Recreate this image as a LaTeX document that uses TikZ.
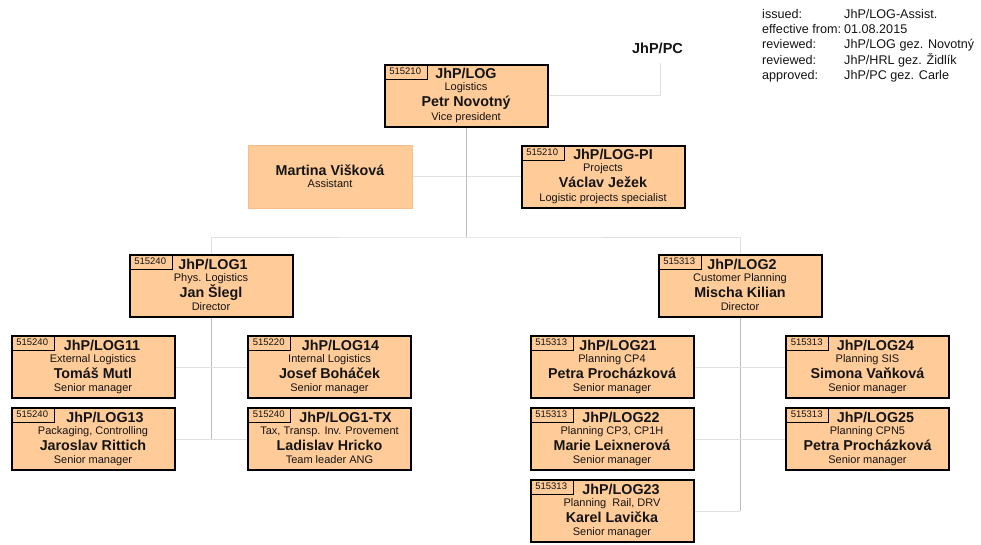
\documentclass[tikz,border=0pt]{standalone}
\usepackage{fontspec}
\setmainfont{Liberation Sans}
\usetikzlibrary{backgrounds}

\definecolor{boxfill}{HTML}{FFCC99}
\definecolor{asstedge}{HTML}{F3C08C}
\definecolor{trunkline}{HTML}{BEBEBE}
\definecolor{linkline}{HTML}{E0E0E0}
\definecolor{inkdark}{HTML}{141414}

\tikzset{
  unitbox/.style={draw=black, line width=2pt, fill=boxfill,
    minimum width=163pt, minimum height=62pt, inner sep=0pt},
  asstbox/.style={draw=asstedge, line width=0.6pt, fill=boxfill,
    minimum width=164pt, minimum height=63pt, inner sep=0pt},
  idtab/.style={anchor=north west, minimum width=43pt, minimum height=15pt,
    inner sep=0pt, text=inkdark, font=\fontsize{9.5}{10}\selectfont},
  tabedge/.style={draw=black, line width=0.8pt},
  titletxt/.style={anchor=base, inner sep=0pt, text=inkdark,
    font=\bfseries\fontsize{14.3}{15}\selectfont},
  nametxt/.style={anchor=base, inner sep=0pt, text=inkdark,
    font=\bfseries\fontsize{14.3}{15}\selectfont},
  depttxt/.style={anchor=base, inner sep=0pt, text=inkdark,
    font=\fontsize{11}{12}\selectfont},
  hdrtxt/.style={anchor=base west, inner sep=0pt, text=inkdark,
    font=\fontsize{12.6}{14}\selectfont},
  trunk/.style={draw=trunkline, line width=1pt},
  link/.style={draw=linkline, line width=1pt},
}

% #1 name, #2/#3 centre, #4 cost centre, #5 unit, #6 department,
% #7 person, #8 role, #9 horizontal shift of the unit title
\newcommand\orgunit[9]{%
  \node[unitbox] (#1) at (#2,#3) {};
  \node[idtab] (#1-id) at (#1.north west) {#4};
  \draw[tabedge] (#1-id.north east) -- (#1-id.south east) -- (#1-id.south west);
  \node[titletxt] (#1-t) at ([xshift=#9pt,yshift=-15pt]#1.north) {#5};
  \node[depttxt] (#1-d) at ([yshift=-27pt]#1.north) {#6};
  \node[nametxt] (#1-n) at ([yshift=-43pt]#1.north) {#7};
  \node[depttxt] (#1-r) at ([yshift=-56.6pt]#1.north) {#8};
}

\begin{document}
\begin{tikzpicture}[x=1pt,y=-1pt]
\useasboundingbox (0,0) rectangle (981,545);

% document header
\node[hdrtxt] (h1l) at (762,18.3) {issued:};
\node[hdrtxt] (h1v) at (844,18.3) {JhP/LOG-Assist.};
\node[hdrtxt] (h2l) at (762,34.0) {effective from:};
\node[hdrtxt] (h2v) at (844,34.0) {01.08.2015};
\node[hdrtxt] (h3l) at (762,48.8) {reviewed:};
\node[hdrtxt] (h3v) at (844,48.8) {JhP/LOG gez. Novotný};
\node[hdrtxt] (h4l) at (762,64.6) {reviewed:};
\node[hdrtxt] (h4v) at (844,64.6) {JhP/HRL gez. Židlík};
\node[hdrtxt] (h5l) at (762,79.3) {approved:};
\node[hdrtxt] (h5v) at (844,79.3) {JhP/PC gez. Carle};

% superior unit
\node[inner sep=0pt, text=inkdark, font=\bfseries\fontsize{14.5}{15}\selectfont]
  (PC) at (657.5,48) {JhP/PC};
\coordinate (pcfoot) at (660,63);

% units
\orgunit{LOG}{466}{96}{515210}{JhP/LOG}{Logistics}{Petr Novotný}{Vice president}{0}
\orgunit{LOGPI}{603}{177}{515210}{JhP/LOG-PI}{Projects}{Václav Ježek}{Logistic projects specialist}{10}

\node[asstbox] (ASST) at (330,177) {};
\node[nametxt] (ASST-n) at ([yshift=-30pt]ASST.north) {Martina Višková};
\node[depttxt] (ASST-r) at ([yshift=-42pt]ASST.north) {Assistant};

\orgunit{LOG1}{211}{286}{515240}{JhP/LOG1}{Phys. Logistics}{Jan Šlegl}{Director}{2}
\orgunit{LOG2}{740}{286}{515313}{JhP/LOG2}{Customer Planning}{Mischa Kilian}{Director}{2}

\orgunit{LOG11}{93}{367}{515240}{JhP/LOG11}{External Logistics}{Tomáš Mutl}{Senior manager}{9}
\orgunit{LOG13}{93}{439}{515240}{JhP/LOG13}{Packaging, Controlling}{Jaroslav Rittich}{Senior manager}{12}
\orgunit{LOG14}{329.5}{367}{515220}{JhP/LOG14}{Internal Logistics}{Josef Boháček}{Senior manager}{11}
\orgunit{LOG1TX}{329.5}{439}{515240}{JhP/LOG1-TX}{Tax, Transp. Inv. Provement}{Ladislav Hricko}{Team leader ANG}{16}

\orgunit{LOG21}{612}{367}{515313}{JhP/LOG21}{Planning CP4}{Petra Procházková}{Senior manager}{6}
\orgunit{LOG22}{612}{439}{515313}{JhP/LOG22}{Planning CP3, CP1H}{Marie Leixnerová}{Senior manager}{9}
\orgunit{LOG23}{612}{511}{515313}{JhP/LOG23}{Planning\ \ Rail, DRV}{Karel Lavička}{Senior manager}{9}
\orgunit{LOG24}{867.5}{367}{515313}{JhP/LOG24}{Planning SIS}{Simona Vaňková}{Senior manager}{8}
\orgunit{LOG25}{867.5}{439}{515313}{JhP/LOG25}{Planning CPN5}{Petra Procházková}{Senior manager}{8}

\coordinate (split) at (466,237);

% reporting lines, behind the boxes
\begin{scope}[on background layer]
  \fill[white] (0,0) rectangle (981,545);
  \draw[link] (LOG.east) -| (pcfoot);
  \draw[link] (ASST.east) -- (LOGPI.west);
  \draw[trunk] (LOG.south) -- (split);
  \draw[link] (LOG1.north) |- (split) -| (LOG2.north);
  % Phys. Logistics
  \draw[trunk] (LOG1.south) -- (LOG1.south |- LOG13.east);
  \draw[link] (LOG11.east) -- (LOG14.west);
  \draw[link] (LOG13.east) -- (LOG1TX.west);
  % Customer Planning
  \draw[trunk] (LOG2.south) -- (LOG2.south |- LOG23.east);
  \draw[link] (LOG21.east) -- (LOG24.west);
  \draw[link] (LOG22.east) -- (LOG25.west);
  \draw[link] (LOG23.east) -- (LOG2.south |- LOG23.east);
\end{scope}
\end{tikzpicture}
\end{document}
